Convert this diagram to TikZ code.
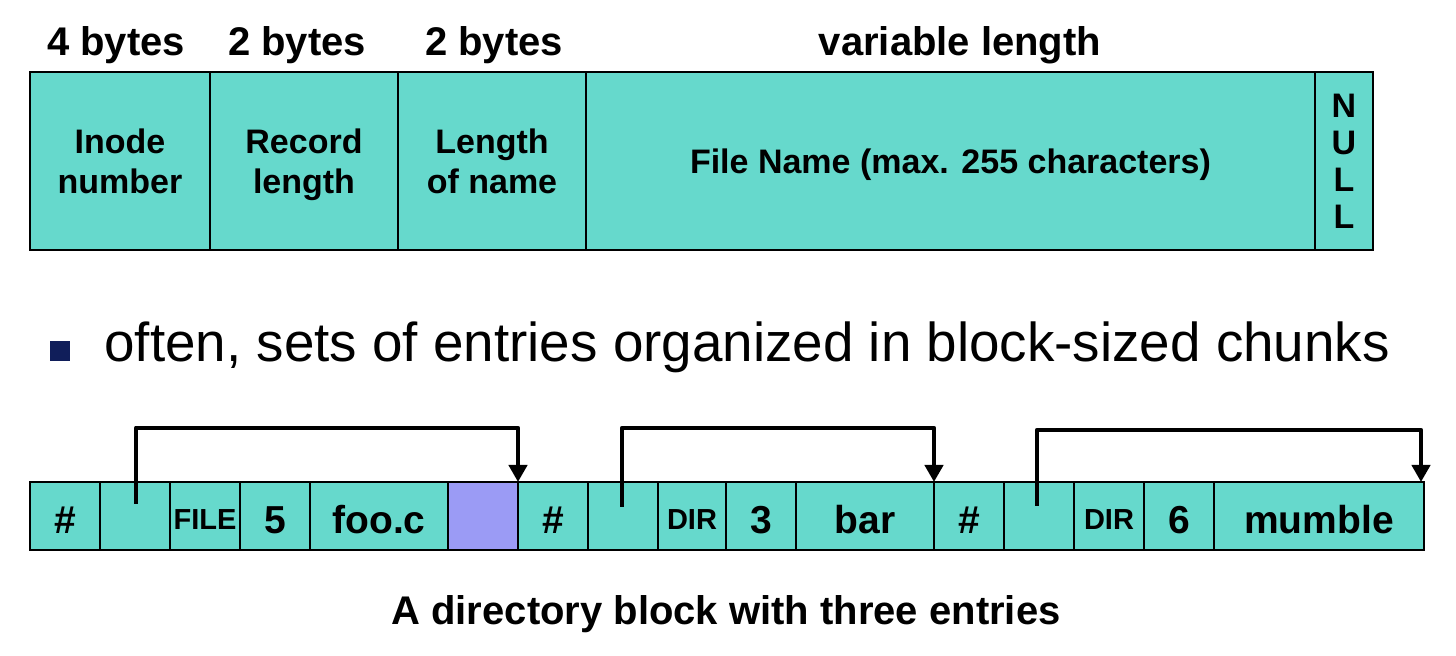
\documentclass[tikz,border=0pt]{standalone}
\usepackage{fontspec}
\setmainfont{Liberation Sans}
\usetikzlibrary{arrows.meta,calc}
\definecolor{cellteal}{RGB}{102,217,204}
\definecolor{padblue}{RGB}{155,155,245}
\definecolor{navy}{RGB}{16,30,90}
\begin{document}
\begin{tikzpicture}[x=0.5pt,y=-0.5pt,
  cell/.style={draw=black, line width=0.7pt, fill=cellteal, inner sep=0pt, outer sep=0pt, align=center, minimum height=89pt, text depth=0pt, font=\fontsize{17}{20}\selectfont\bfseries},
  hdr/.style={font=\fontsize{20}{24}\selectfont\bfseries, inner sep=0pt},
  rowcell/.style={draw=black, line width=0.7pt, fill=cellteal, inner sep=0pt, outer sep=0pt, minimum height=34pt, text height=18pt, text depth=0pt, font=\fontsize{19.5}{23}\selectfont\bfseries},
  smalltxt/.style={text height=14pt, font=\fontsize{14.5}{17}\selectfont\bfseries},
  ptr/.style={line width=2.4pt, line join=round, -{Triangle[width=9pt,length=8.5pt]}},
]
\useasboundingbox (0,0) rectangle (1456,656);

% headers
\node[hdr] (h1) at (116,45) {4 bytes};
\node[hdr] (h2) at (297,45) {2 bytes};
\node[hdr] (h3) at (494,45) {2 bytes};
\node[hdr] (h4) at (960,45) {variable length};

% top record
\node[cell, minimum width=90pt] (inode) at (120,161) {Inode\\number};
\node[cell, minimum width=94pt] (reclen) at (304,161) {Record\\length};
\node[cell, minimum width=94pt] (namelen) at (492,161) {Length\\of name};
\node[cell, minimum width=364.5pt] (fname) at (950.5,161) {File Name (max. 255 characters)};
\node[cell, minimum width=29pt, font=\fontsize{17}{18.5}\selectfont\bfseries] (null) at (1344,161) {N\\U\\L\\L};

% bullet
\node[fill=navy, minimum size=10pt, inner sep=0pt] (bul) at (60,351) {};
\node[anchor=base west, inner sep=0pt, font=\fontsize{27.4}{32}\selectfont] (btext) at (104,362) {often, sets of entries organized in block-sized chunks};

% directory block
\node[rowcell, minimum width=35pt] (n1) at (65,516) {\#};
\node[rowcell, minimum width=35pt] (p1) at (135,516) {};
\node[rowcell, minimum width=35pt, smalltxt] (t1) at (205,516) {FILE};
\node[rowcell, minimum width=35pt] (l1) at (275,516) {5};
\node[rowcell, minimum width=69pt] (f1) at (379,516) {foo.c};
\node[rowcell, minimum width=35pt, fill=padblue] (pad) at (483,516) {};

\node[rowcell, minimum width=35pt] (n2) at (553,516) {\#};
\node[rowcell, minimum width=35pt] (p2) at (623,516) {};
\node[rowcell, minimum width=34pt, smalltxt] (t2) at (692,516) {DIR};
\node[rowcell, minimum width=35pt] (l2) at (761,516) {3};
\node[rowcell, minimum width=69pt] (f2) at (865,516) {bar};

\node[rowcell, minimum width=35pt] (n3) at (969,516) {\#};
\node[rowcell, minimum width=35pt] (p3) at (1039,516) {};
\node[rowcell, minimum width=35pt, smalltxt] (t3) at (1109,516) {DIR};
\node[rowcell, minimum width=35pt] (l3) at (1179,516) {6};
\node[rowcell, minimum width=105pt] (f3) at (1319,516) {mumble};

% pointers
\draw[ptr] ($(p1.center)+(1,-12)$) -- ++(0,-76) -| (pad.north east);
\draw[ptr] ($(p2.center)+(-1,-9)$) -- ++(0,-79) -| (f2.north east);
\draw[ptr] ($(p3.center)+(-2,-10)$) -- ++(0,-76) -| ($(f3.north east)+(-3,0)$);

% caption
\node[hdr] (cap) at (726,614) {A directory block with three entries};
\end{tikzpicture}
\end{document}
